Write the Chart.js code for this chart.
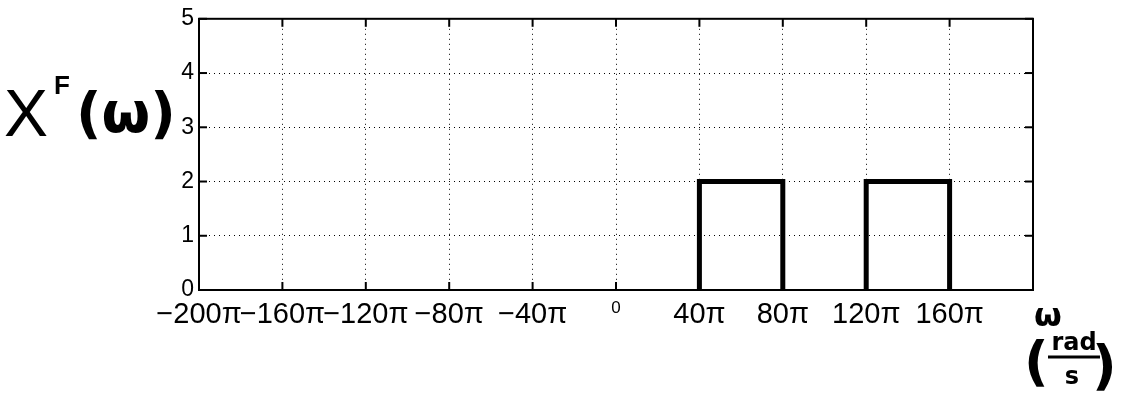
<!DOCTYPE html>
<html><head><meta charset="utf-8">
<script src="https://cdn.jsdelivr.net/npm/chart.js@4"></script>
<style>html,body{margin:0;padding:0;background:#fff}#wrap{width:1128px;height:400px}</style>
</head><body><div id="wrap"><canvas id="c" width="1128" height="400"></canvas></div>
<script>
// Data
const xTickValues = [-200,-160,-120,-80,-40,0,40,80,120,160,200];
const xTickLabels = ['−200π','−160π','−120π','−80π','−40π','0','40π','80π','120π','160π',''];
const yTickValues = [0,1,2,3,4,5];
const pulseX = [40,40,80,80,100,120,120,160,160];
const pulseY = [0,2,2,0,null,0,2,2,0];
const yAxisLabel = 'X';
const yAxisSup = 'F';
const yAxisArg = '(ω)';
const xAxisLabel = 'ω';
const xUnitNum = 'rad';
const xUnitDen = 's';

const pts = pulseX.map((x,i)=>({x:x,y:pulseY[i]}));

const frame = {
  id:'frame',
  afterDatasetsDraw(chart){
    const {ctx, chartArea:a, scales:{x,y}} = chart;
    ctx.save();
    ctx.strokeStyle='#000'; ctx.lineWidth=2;
    ctx.strokeRect(a.left, a.top, a.right-a.left, a.bottom-a.top);
    const L=8;
    xTickValues.forEach(v=>{
      const px=x.getPixelForValue(v);
      ctx.beginPath();ctx.moveTo(px,a.top);ctx.lineTo(px,a.top+L);ctx.stroke();
      ctx.beginPath();ctx.moveTo(px,a.bottom);ctx.lineTo(px,a.bottom-L);ctx.stroke();
    });
    yTickValues.forEach(v=>{
      const py=y.getPixelForValue(v);
      ctx.beginPath();ctx.moveTo(a.left,py);ctx.lineTo(a.left+L,py);ctx.stroke();
      ctx.beginPath();ctx.moveTo(a.right,py);ctx.lineTo(a.right-L,py);ctx.stroke();
    });
    // y axis label
    ctx.fillStyle='#000';
    ctx.textBaseline='alphabetic';ctx.textAlign='left';
    ctx.font='66px "Liberation Sans"';
    ctx.fillText(yAxisLabel,4,136);
    ctx.font='bold 26px "Liberation Sans"';
    ctx.fillText(yAxisSup,54,94);
    ctx.font='bold 56px "DejaVu Sans"';
    ctx.fillText(yAxisArg,76,132);
    // x axis label
    ctx.font='bold 32px "DejaVu Sans"';
    ctx.fillText(xAxisLabel,1034,326);
    ctx.font='bold 54px "DejaVu Sans"';
    ctx.fillText('(',1024,380);
    ctx.fillText(')',1092,384);
    ctx.font='bold 24px "DejaVu Sans"';
    ctx.textAlign='center';
    ctx.fillText(xUnitNum,1074,350);
    ctx.fillText(xUnitDen,1072,384);
    ctx.lineWidth=3;
    ctx.beginPath();ctx.moveTo(1048,357);ctx.lineTo(1100,357);ctx.stroke();
    ctx.restore();
  }
};

new Chart(document.getElementById('c'),{
  type:'line',
  data:{datasets:[{data:pts,borderColor:'#000',borderWidth:5,pointRadius:0,fill:false,tension:0,clip:false,spanGaps:false}]},
  options:{
    responsive:false,animation:false,
    layout:{padding:{left:0,right:95,top:12,bottom:0}},
    plugins:{legend:{display:false},tooltip:{enabled:false}},
    scales:{
      x:{type:'linear',min:-200,max:200,
        afterBuildTicks(s){s.ticks=xTickValues.map(v=>({value:v}));},
        afterFit(s){s.height=110;},
        border:{display:false,dash:[1,4]},
        grid:{color:'#000',lineWidth:1,drawTicks:false},
        ticks:{autoSkip:false,maxRotation:0,minRotation:0,padding:8,color:'#000',
          callback:(v)=>xTickLabels[xTickValues.indexOf(v)],
          font:(c)=> (c.tick && c.tick.value===0) ? {family:'Liberation Sans',size:17} : {family:'Liberation Sans',size:29}
        }
      },
      y:{type:'linear',min:0,max:5,
        afterBuildTicks(s){s.ticks=yTickValues.map(v=>({value:v}));},
        afterFit(s){s.width=199;},
        border:{display:false,dash:[1,4]},
        grid:{color:'#000',lineWidth:1,drawTicks:false},
        ticks:{padding:5,color:'#000',font:{family:'Liberation Sans',size:23}}
      }
    }
  },
  plugins:[frame]
});
</script></body></html>
